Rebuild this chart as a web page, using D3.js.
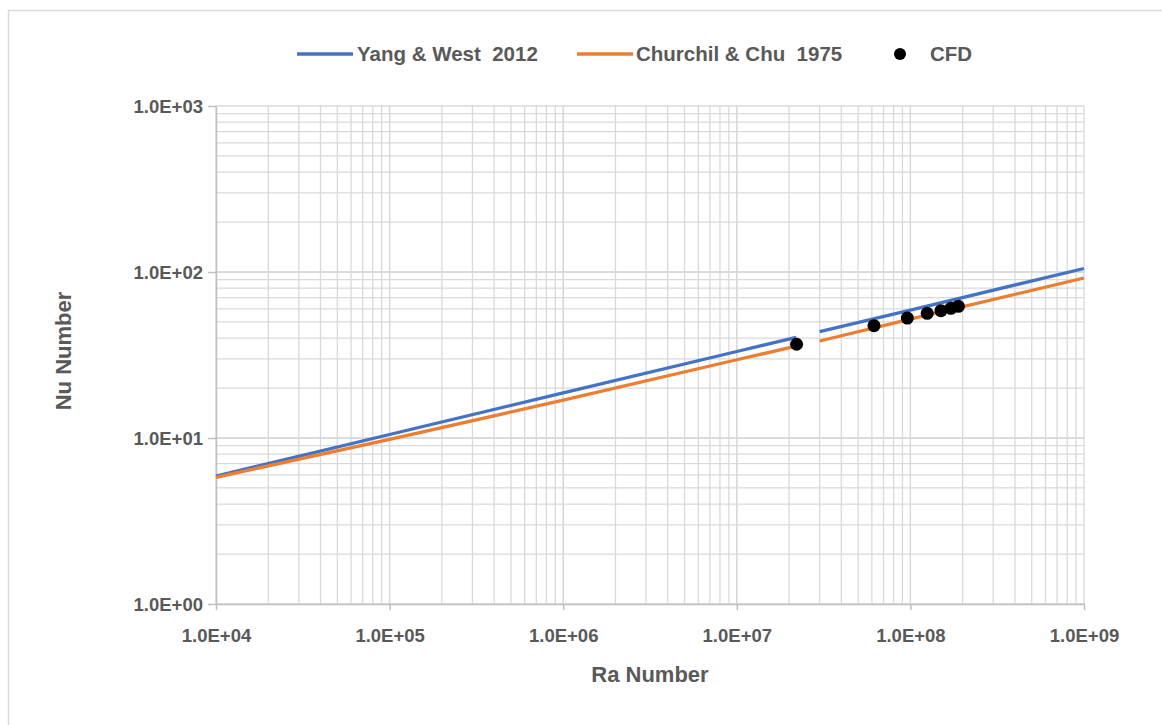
<!DOCTYPE html>
<html><head><meta charset="utf-8">
<script src="https://cdn.jsdelivr.net/npm/d3@7"></script>
<style>body{margin:0;background:#fff}svg{display:block}text{white-space:pre}</style>
</head><body>
<svg id="c" width="1162" height="725"></svg>
<script>
// Data
const seriesNames = ["Yang & West  2012", "Churchil & Chu  1975", "CFD"];
const yangSeg1 = [[1e4,5.9],[1e5,10.5],[1e6,18.7],[1e7,33.2],[2.2e7,40.4]];
const yangSeg2 = [[3e7,43.7],[1e8,59],[1e9,105]];
const churchSeg1 = [[1e4,5.8],[1e5,9.8],[1e6,16.9],[1e7,29.6],[2.2e7,35.8]];
const churchSeg2 = [[3e7,38.4],[1e8,52],[1e9,92]];
const cfdRa = [2.21e7, 6.17e7, 9.6e7, 1.25e8, 1.50e8, 1.71e8, 1.89e8];
const cfdNu = [36.7, 47.5, 52.8, 56.4, 58.5, 60.4, 62.1];
const xTickVals = [1e4,1e5,1e6,1e7,1e8,1e9];
const xTickLabels = ["1.0E+04","1.0E+05","1.0E+06","1.0E+07","1.0E+08","1.0E+09"];
const yTickVals = [1,10,100,1000];
const yTickLabels = ["1.0E+00","1.0E+01","1.0E+02","1.0E+03"];

const svg = d3.select("#c");
const L=216, R=1084, T=106, B=604;
const x = d3.scaleLog().domain([1e4,1e9]).range([L,R]);
const y = d3.scaleLog().domain([1,1000]).range([B,T]);
const font = "'Liberation Sans', Arial, sans-serif";
const txt = "#595959";

svg.append("rect").attr("x",8.5).attr("y",10.5).attr("width",1170).attr("height",730)
  .attr("fill","#fff").attr("stroke","#d9d9d9").attr("stroke-width",1.5);

// grid
const xMinor = [], yMinor = [];
for (let e=4;e<9;e++) for (let m=1;m<=10;m++) xMinor.push(m*Math.pow(10,e));
for (let e=0;e<3;e++) for (let m=1;m<=10;m++) yMinor.push(m*Math.pow(10,e));
const g = svg.append("g");
g.selectAll(".vx").data(xMinor).join("line")
  .attr("x1",d=>x(d)).attr("x2",d=>x(d)).attr("y1",T).attr("y2",B)
  .attr("stroke","#d9d9d9").attr("stroke-width",1.3);
g.selectAll(".hy").data(yMinor).join("line")
  .attr("x1",L).attr("x2",R).attr("y1",d=>y(d)).attr("y2",d=>y(d))
  .attr("stroke","#d9d9d9").attr("stroke-width",1.3);

// axes
const xAxis = d3.axisBottom(x).tickValues(xTickVals).tickFormat((d,i)=>xTickLabels[i]).tickSize(6).tickSizeOuter(0);
const yAxis = d3.axisLeft(y).tickValues(yTickVals).tickFormat((d,i)=>yTickLabels[i]).tickSize(8).tickSizeOuter(0);
const gx = svg.append("g").attr("transform",`translate(0,${B})`).call(xAxis);
const gy = svg.append("g").attr("transform",`translate(${L},0)`).call(yAxis);
[gx,gy].forEach(a=>{
  a.selectAll("path,line").attr("stroke","#bfbfbf").attr("stroke-width",1.5);
  a.selectAll("text").attr("fill",txt).attr("font-family",font).attr("font-weight","bold").attr("font-size",18.5);
});
gx.selectAll("text").attr("dy",0).attr("y",38);
gy.selectAll("text").attr("x",-13).attr("dy","0.35em");

// lines
const line = d3.line().x(d=>x(d[0])).y(d=>y(d[1]));
[[yangSeg1,"#4472C4"],[yangSeg2,"#4472C4"],[churchSeg1,"#ED7D31"],[churchSeg2,"#ED7D31"]].forEach(([d,c])=>{
  svg.append("path").datum(d).attr("d",line).attr("fill","none").attr("stroke",c).attr("stroke-width",3.3);
});
svg.selectAll(".cfd").data(cfdRa).join("circle")
  .attr("cx",d=>x(d)).attr("cy",(d,i)=>y(cfdNu[i])).attr("r",6.5).attr("fill","#000");

// titles
svg.append("text").attr("x",650).attr("y",682).attr("text-anchor","middle")
  .attr("font-family",font).attr("font-weight","bold").attr("font-size",22).attr("fill",txt).text("Ra Number");
svg.append("text").attr("transform","translate(71,351) rotate(-90)").attr("text-anchor","middle")
  .attr("font-family",font).attr("font-weight","bold").attr("font-size",22).attr("fill",txt).text("Nu Number");

// legend
const lg = svg.append("g");
const ly = 54;
lg.append("line").attr("x1",297).attr("x2",353).attr("y1",ly).attr("y2",ly).attr("stroke","#4472C4").attr("stroke-width",3.3);
lg.append("text").attr("x",357).attr("y",ly).attr("dy","0.36em").text(seriesNames[0]);
lg.append("line").attr("x1",577).attr("x2",633).attr("y1",ly).attr("y2",ly).attr("stroke","#ED7D31").attr("stroke-width",3.3);
lg.append("text").attr("x",636).attr("y",ly).attr("dy","0.36em").text(seriesNames[1]);
lg.append("circle").attr("cx",900).attr("cy",ly).attr("r",6).attr("fill","#000");
lg.append("text").attr("x",930).attr("y",ly).attr("dy","0.36em").text(seriesNames[2]);
lg.selectAll("text").attr("font-family",font).attr("font-weight","bold").attr("font-size",20.5).attr("fill",txt);
</script>
</body></html>
